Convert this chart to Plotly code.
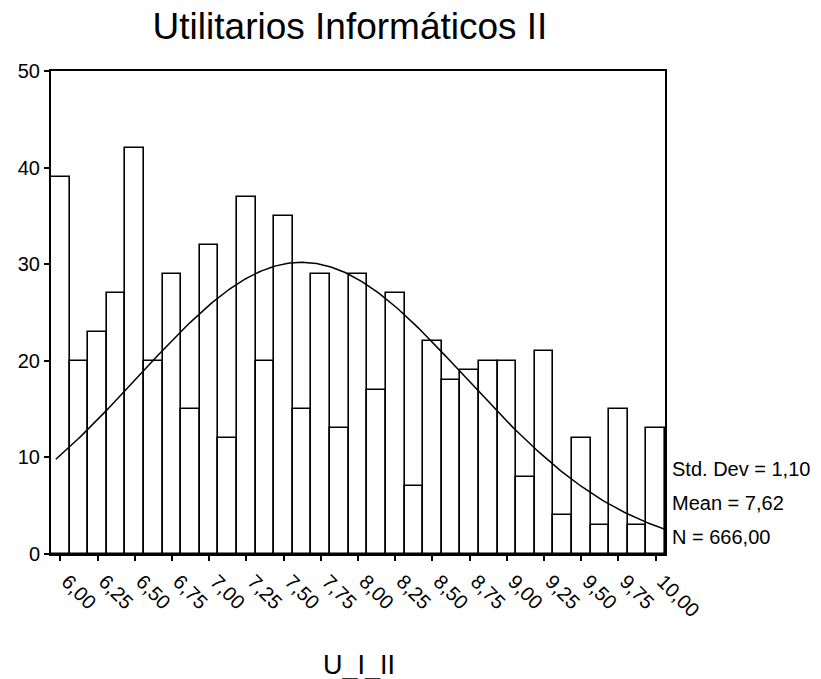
import numpy as np
import plotly.graph_objects as go

# Histogram of U_I_II: bin centres every 0.125 from 6.00 to 10.00
bin_centers = [6.0 + 0.125 * i for i in range(33)]
counts = [39, 20, 23, 27, 42, 20, 29, 15, 32, 12, 37, 20, 35, 15, 29, 13,
          29, 17, 27, 7, 22, 18, 19, 20, 20, 8, 21, 4, 12, 3, 15, 3, 13]
bin_width = 0.125

# Summary statistics shown beside the plot
std_dev = 1.10
mean = 7.62
n_total = 666

tick_vals = [6.0 + 0.25 * i for i in range(17)]
tick_text = [f"{v:.2f}".replace(".", ",") for v in tick_vals]

FONT = "Liberation Sans, Arial, sans-serif"


def comma(v):
    return f"{v:.2f}".replace(".", ",")


# Normal curve scaled to counts per bin
curve_x = np.linspace(5.97, 10.0625, 300)
curve_y = (n_total * bin_width / (std_dev * np.sqrt(2 * np.pi))
           * np.exp(-0.5 * ((curve_x - mean) / std_dev) ** 2))

fig = go.Figure()
fig.add_trace(go.Bar(
    x=bin_centers, y=counts, width=bin_width,
    marker=dict(color="white", line=dict(color="black", width=1.6)),
    hoverinfo="x+y",
))
fig.add_trace(go.Scatter(
    x=curve_x, y=curve_y, mode="lines",
    line=dict(color="black", width=1.5), hoverinfo="skip",
))

fig.update_layout(
    width=821, height=679,
    margin=dict(l=51, r=156, t=71, b=125),
    paper_bgcolor="white", plot_bgcolor="white",
    showlegend=False,
    bargap=0,
    font=dict(family=FONT, color="black"),
    title=dict(
        text="Utilitarios Informáticos II",
        font=dict(family=FONT, size=37, color="black"),
        xref="container", yref="container",
        x=350 / 821, xanchor="center",
        y=1 - 26 / 679, yanchor="middle",
    ),
)

fig.update_xaxes(
    range=[5.9375, 10.0625],
    tickmode="array", tickvals=tick_vals, ticktext=tick_text,
    tickangle=45, tickfont=dict(size=20),
    ticklabelshift=7, ticklabelstandoff=1,
    ticks="outside", ticklen=5, tickwidth=1.5, tickcolor="black",
    showline=True, linecolor="black", linewidth=2, mirror=True,
    showgrid=False, zeroline=False,
)
fig.update_yaxes(
    range=[0, 50],
    tickvals=[0, 10, 20, 30, 40, 50],
    tickfont=dict(size=20),
    ticks="outside", ticklen=5, tickwidth=1.5, tickcolor="black",
    showline=True, linecolor="black", linewidth=2, mirror=True,
    showgrid=False, zeroline=False,
)

# Axis title below the rotated tick labels
fig.add_annotation(
    text="U_I_II", xref="paper", yref="paper",
    x=(359 - 51) / 614, y=-(665 - 554) / 483,
    xanchor="center", yanchor="middle",
    showarrow=False, font=dict(family=FONT, size=27, color="black"),
)

# Statistics block to the right of the plot
stats = [f"Std. Dev = {comma(std_dev)}",
         f"Mean = {comma(mean)}",
         f"N = {comma(n_total)}"]
stat_y = [8.8, 5.3, 1.75]
for txt, yy in zip(stats, stat_y):
    fig.add_annotation(
        text=txt, xref="paper", yref="y",
        x=(673 - 51) / 614, y=yy,
        xanchor="left", yanchor="middle", xshift=-3,
        showarrow=False, font=dict(family=FONT, size=20, color="black"),
    )

fig.write_html("out.html")
